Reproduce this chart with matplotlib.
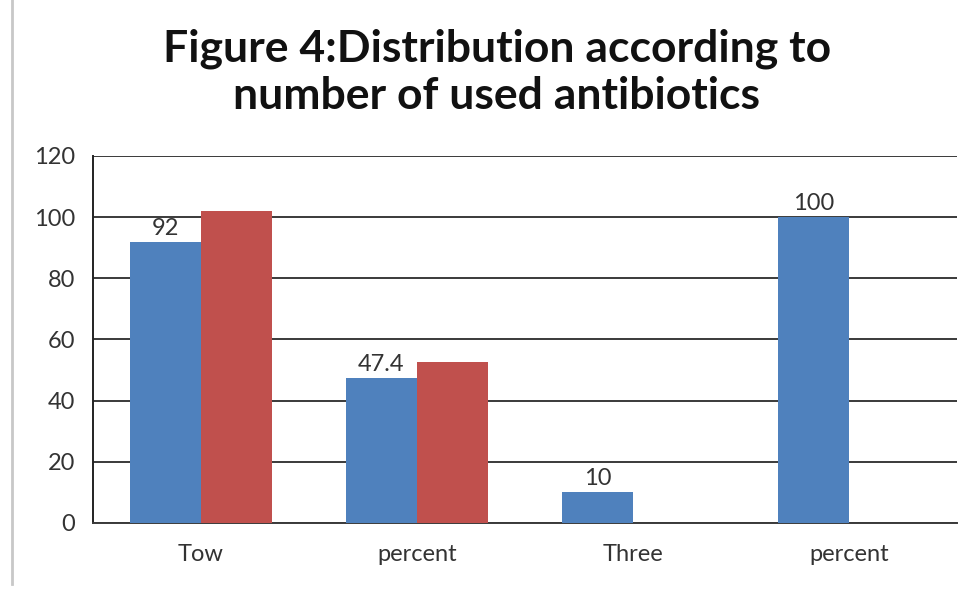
import numpy as np
import matplotlib.pyplot as plt
from matplotlib.lines import Line2D

categories = ["Tow", "percent", "Three", "percent"]
series_a = [92, 47.4, 10, 100]
series_b = [102, 52.6, 0, 0]
labels_a = ["92", "47.4", "10", "100"]

plt.rcParams['font.family'] = ['Lato', 'DejaVu Sans']

fig = plt.figure(figsize=(9.72, 5.9), dpi=100)
ax = fig.add_axes([0.0957, 0.1136, 0.8889, 0.622])

x = np.arange(len(categories))
w = 0.33
blue = "#4F81BD"
red = "#C0504D"

bars_a = ax.bar(x - w / 2, series_a, w, color=blue, zorder=3)
ax.bar(x + w / 2, series_b, w, color=red, zorder=3)

for rect, txt in zip(bars_a, labels_a):
    ax.text(rect.get_x() + rect.get_width() / 2, rect.get_height() + 1.0, txt,
            ha="center", va="bottom", fontsize=17, color="#333333", zorder=4)

ax.set_xlim(-0.5, len(categories) - 0.5)
ax.set_ylim(0, 120)
ax.set_yticks(range(0, 121, 20))
ax.set_xticks(x)
ax.set_xticklabels(categories)
ax.tick_params(axis="both", length=0, labelsize=17, colors="#333333")
ax.tick_params(axis="y", pad=13)
ax.tick_params(axis="x", pad=15)

ax.yaxis.grid(True, color="#3a3a3a", linewidth=1.4, zorder=0)
ax.set_axisbelow(True)
for side in ["top", "right"]:
    ax.spines[side].set_visible(False)
ax.spines["left"].set_color("#222222")
ax.spines["left"].set_linewidth(1.4)
ax.spines["bottom"].set_color("#3a3a3a")
ax.spines["bottom"].set_linewidth(1.4)

fig.text(0.511, 0.878, "Figure 4:Distribution according to\nnumber of used antibiotics",
         ha="center", va="center", fontsize=32, fontweight="bold",
         color="#111111", linespacing=1.2)

# thin outer frame line on the left
fig.add_artist(Line2D([12 / 972, 12 / 972], [0.01, 1.0], transform=fig.transFigure,
                      color="#c8c8c8", linewidth=2))

fig.savefig("out.png", dpi=100)
